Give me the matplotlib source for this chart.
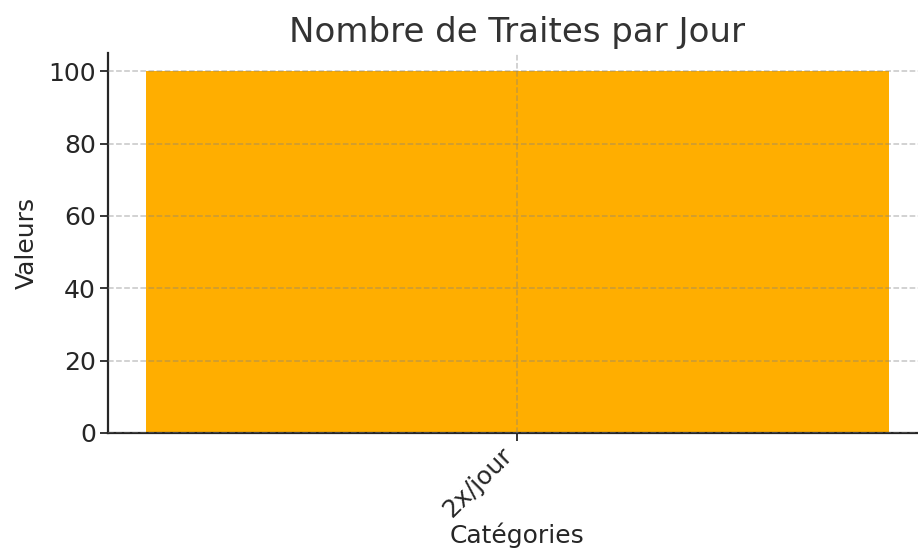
import matplotlib.pyplot as plt

plt.rcParams["font.family"] = ["DejaVu Sans"]

# ── données ──────────────────────────────────────────────────────────────────
categories = ["2x/jour"]
valeurs    = [100]

BAR_COLOR = "#FFAE00"
TEXT      = "#262626"

fig, ax = plt.subplots(figsize=(9.18, 5.48), dpi=100)
ax.bar(categories, valeurs, color=BAR_COLOR, width=0.8, zorder=1)

ax.set_title("Nombre de Traites par Jour", fontsize=24.5, color="#333333", pad=8)
ax.set_xlabel("Catégories", fontsize=18, color=TEXT, labelpad=0)
ax.set_ylabel("Valeurs", fontsize=18, color=TEXT, labelpad=7)
ax.set_ylim(0, 105)
ax.set_yticks([0, 20, 40, 60, 80, 100])
ax.tick_params(labelsize=18, colors=TEXT, length=5.5, width=1.3)
ax.tick_params(axis="x", pad=2)
plt.setp(ax.get_xticklabels(), rotation=45, ha="right")

ax.set_axisbelow(False)
ax.grid(True, linestyle="--", color="gray", alpha=0.45, linewidth=1.1, zorder=3)
ax.spines["top"].set_visible(False)
ax.spines["right"].set_visible(False)
for s in ("left", "bottom"):
    ax.spines[s].set_linewidth(1.6)
    ax.spines[s].set_color(TEXT)

plt.subplots_adjust(left=0.118, right=1.009, top=0.903, bottom=0.21)
plt.savefig("out.png", dpi=100)
plt.close()
